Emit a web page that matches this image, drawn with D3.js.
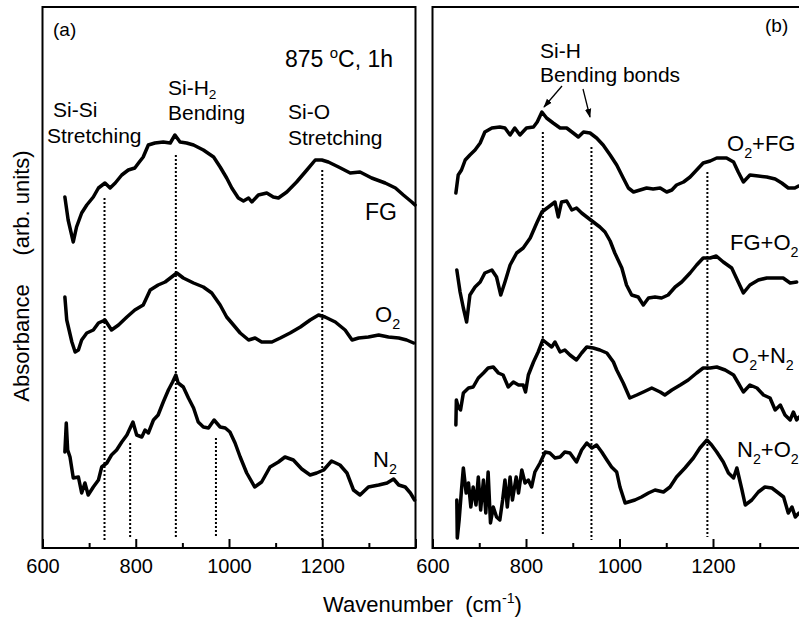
<!DOCTYPE html>
<html>
<head>
<meta charset="utf-8">
<script src="https://cdn.jsdelivr.net/npm/d3@7"></script>
<style>
  body { margin: 0; background: #fff; }
  text { font-family: "Liberation Sans", Arial, Helvetica, sans-serif; fill: #000; }
</style>
</head>
<body>
<script>
  // spectra: [wavenumber (cm-1), absorbance (arb.)]
  const aFG = [[648,3.51],[655,3.28],[666,3.06],[673,3.21],[684,3.35],[695,3.43],[709,3.51],[720,3.60],[734,3.65],[745,3.60],[756,3.65],[770,3.73],[784,3.78],[798,3.80],[806,3.85],[816,3.91],[827,4.03],[841,4.05],[859,4.06],[874,4.05],[884,4.13],[895,4.06],[909,4.05],[924,4.03],[945,3.98],[967,3.91],[981,3.81],[995,3.70],[1006,3.60],[1020,3.50],[1031,3.47],[1042,3.50],[1049,3.46],[1063,3.53],[1081,3.55],[1095,3.51],[1106,3.50],[1124,3.56],[1145,3.66],[1167,3.78],[1185,3.88],[1199,3.88],[1213,3.86],[1235,3.81],[1260,3.75],[1281,3.76],[1306,3.70],[1335,3.65],[1357,3.60],[1374,3.53],[1392,3.46],[1399,3.43]];
  const aO2 = [[648,2.51],[652,2.28],[663,2.06],[670,1.96],[677,1.98],[684,2.08],[695,2.15],[709,2.18],[720,2.25],[734,2.28],[748,2.18],[763,2.23],[781,2.31],[798,2.38],[816,2.43],[831,2.58],[848,2.63],[863,2.66],[877,2.71],[888,2.75],[902,2.70],[924,2.65],[945,2.61],[963,2.55],[981,2.43],[995,2.31],[1006,2.25],[1024,2.15],[1042,2.08],[1056,2.10],[1070,2.06],[1092,2.06],[1110,2.10],[1131,2.15],[1153,2.21],[1174,2.28],[1192,2.33],[1206,2.31],[1228,2.26],[1249,2.18],[1264,2.08],[1278,2.10],[1299,2.11],[1321,2.13],[1342,2.11],[1364,2.10],[1381,2.08],[1396,2.05]];
  const aN2 = [[648,0.96],[651,1.25],[654,0.98],[659,0.91],[666,0.70],[677,0.71],[684,0.55],[691,0.65],[698,0.53],[709,0.61],[720,0.68],[727,0.81],[738,0.85],[748,0.93],[759,0.98],[770,1.06],[781,1.13],[794,1.26],[802,1.13],[813,1.11],[820,1.18],[827,1.15],[838,1.28],[848,1.33],[859,1.46],[870,1.58],[879,1.66],[886,1.73],[891,1.65],[902,1.61],[913,1.50],[924,1.40],[934,1.26],[945,1.21],[956,1.20],[968,1.28],[981,1.21],[992,1.20],[1002,1.16],[1013,1.05],[1024,0.91],[1038,0.75],[1055,0.61],[1070,0.66],[1088,0.81],[1106,0.86],[1120,0.91],[1138,0.88],[1156,0.79],[1174,0.73],[1188,0.75],[1203,0.78],[1220,0.87],[1238,0.83],[1253,0.75],[1267,0.58],[1281,0.53],[1299,0.61],[1321,0.63],[1339,0.65],[1353,0.69],[1364,0.63],[1378,0.61],[1389,0.55],[1398,0.48]];

  const bO2FG = [[650,3.55],[655,3.73],[662,3.78],[670,3.88],[680,3.93],[691,3.98],[702,4.05],[712,4.16],[727,4.20],[744,4.21],[755,4.20],[766,4.13],[776,4.20],[787,4.13],[801,4.20],[816,4.21],[824,4.26],[834,4.36],[844,4.30],[858,4.25],[873,4.20],[887,4.20],[901,4.15],[912,4.11],[923,4.16],[937,4.15],[951,4.10],[965,4.03],[980,3.93],[994,3.83],[1008,3.70],[1019,3.60],[1030,3.56],[1044,3.58],[1058,3.60],[1072,3.59],[1087,3.60],[1101,3.56],[1112,3.58],[1122,3.63],[1137,3.66],[1151,3.71],[1165,3.78],[1179,3.85],[1194,3.87],[1208,3.90],[1229,3.90],[1244,3.86],[1254,3.76],[1265,3.66],[1279,3.73],[1297,3.72],[1315,3.71],[1333,3.69],[1347,3.65],[1361,3.60],[1375,3.60],[1383,3.62]];
  const bFGO2 = [[652,2.78],[659,2.56],[666,2.40],[673,2.26],[680,2.53],[691,2.61],[702,2.66],[712,2.75],[727,2.78],[737,2.71],[746,2.53],[755,2.66],[766,2.83],[780,2.95],[794,3.00],[809,3.10],[823,3.25],[834,3.36],[848,3.41],[862,3.46],[869,3.31],[876,3.46],[887,3.47],[898,3.38],[908,3.40],[919,3.35],[930,3.31],[944,3.26],[958,3.21],[969,3.16],[980,3.07],[990,2.95],[1005,2.80],[1015,2.63],[1026,2.53],[1040,2.51],[1051,2.43],[1062,2.50],[1076,2.51],[1090,2.50],[1104,2.53],[1119,2.61],[1133,2.66],[1151,2.75],[1165,2.83],[1179,2.90],[1194,2.90],[1207,2.92],[1222,2.86],[1240,2.80],[1254,2.66],[1265,2.55],[1279,2.63],[1297,2.68],[1315,2.70],[1333,2.70],[1350,2.70],[1365,2.65],[1379,2.66]];
  const bO2N2 = [[650,1.23],[651,1.48],[655,1.41],[660,1.38],[666,1.55],[677,1.60],[687,1.61],[698,1.70],[709,1.75],[719,1.80],[730,1.81],[741,1.75],[751,1.73],[762,1.61],[773,1.66],[784,1.63],[794,1.63],[799,1.56],[805,1.73],[816,1.86],[826,1.96],[836,2.08],[844,2.05],[855,2.01],[862,2.06],[873,1.96],[883,1.98],[894,1.93],[908,1.88],[919,1.95],[930,2.01],[944,2.00],[958,1.98],[973,1.95],[987,1.86],[994,1.78],[1008,1.65],[1022,1.50],[1037,1.53],[1051,1.56],[1069,1.60],[1087,1.56],[1097,1.53],[1112,1.58],[1130,1.63],[1147,1.68],[1165,1.75],[1179,1.80],[1194,1.80],[1208,1.81],[1226,1.78],[1244,1.73],[1254,1.65],[1265,1.56],[1279,1.63],[1294,1.60],[1308,1.53],[1322,1.50],[1333,1.38],[1344,1.43],[1354,1.33],[1365,1.28],[1372,1.36],[1379,1.28],[1384,1.31]];
  const bN2O2 = [[652,0.48],[653,0.10],[657,0.28],[662,0.58],[666,0.80],[672,0.55],[677,0.65],[682,0.41],[687,0.61],[693,0.43],[698,0.71],[703,0.38],[709,0.68],[714,0.35],[719,0.76],[724,0.25],[730,0.41],[737,0.31],[744,0.28],[750,0.48],[755,0.68],[760,0.41],[766,0.71],[771,0.48],[779,0.71],[784,0.55],[791,0.78],[798,0.65],[805,0.68],[812,0.61],[819,0.76],[830,0.85],[841,0.96],[851,0.95],[862,0.90],[873,0.91],[883,0.96],[894,0.95],[908,0.86],[919,0.98],[930,1.05],[941,1.00],[951,1.03],[962,0.96],[973,0.88],[983,0.81],[994,0.76],[1001,0.61],[1012,0.45],[1019,0.46],[1033,0.48],[1047,0.51],[1062,0.55],[1076,0.58],[1094,0.56],[1108,0.61],[1122,0.71],[1140,0.80],[1158,0.90],[1172,1.00],[1187,1.08],[1197,1.03],[1208,0.96],[1222,0.86],[1233,0.75],[1244,0.70],[1251,0.80],[1262,0.58],[1269,0.43],[1283,0.48],[1297,0.56],[1311,0.61],[1326,0.60],[1340,0.55],[1351,0.51],[1361,0.35],[1369,0.41],[1376,0.31],[1384,0.35]];

  // dotted marker lines: [wavenumber, top absorbance, bottom absorbance]
  const aMarks = [[733,3.50,0.08],[788,1.05,0.11],[886,3.93,0.11],[972,1.10,0.11],[1200,3.78,0.08]];
  const bMarks = [[836,4.16,0.13],[940,4.01,0.08],[1188,3.76,0.11]];

  const majorTicks = [600, 800, 1000, 1200, 1400];
  const minorTicks = [700, 900, 1100, 1300];
  const tickLabels = [600, 800, 1000, 1200];

  const width = 799;
  const height = 618;
  const plotTop = 7, plotBottom = 548;

  const svg = d3.select('body')
          .append('svg')
          .attr('width', width)
          .attr('height', height);

  const y = d3.scaleLinear().domain([0, 5.41]).range([plotBottom, plotTop]);

  const line = (x) => d3.line()
          .x(d => x(d[0]))
          .y(d => y(d[1]));

  function panel(x0, x1, series, marks) {
    const x = d3.scaleLinear().domain([600, 1400]).range([x0, x1]);
    const g = svg.append('g');

    // marker lines first, curves on top
    g.selectAll('line.mark')
            .data(marks)
            .enter()
            .append('line')
            .attr('class', 'mark')
            .attr('x1', d => x(d[0]))
            .attr('x2', d => x(d[0]))
            .attr('y1', d => y(d[1]))
            .attr('y2', d => y(d[2]))
            .attr('stroke', '#000')
            .attr('stroke-width', 2)
            .attr('stroke-dasharray', '2,2');

    g.selectAll('path.spec')
            .data(series)
            .enter()
            .append('path')
            .attr('class', 'spec')
            .attr('d', line(x))
            .attr('fill', 'none')
            .attr('stroke', '#000')
            .attr('stroke-width', 3.5)
            .attr('stroke-linejoin', 'round')
            .attr('stroke-linecap', 'round');

    // inward ticks on the bottom
    const major = g.append('g')
            .attr('transform', `translate(0,${plotBottom})`)
            .call(d3.axisBottom(x).tickValues(majorTicks).tickSize(-9).tickPadding(11)
                    .tickFormat(d => tickLabels.includes(d) ? d : ''));
    major.select('.domain').remove();
    major.selectAll('line').attr('stroke-width', 2);
    major.selectAll('text').attr('font-size', 20).attr('font-family', '"Liberation Sans", Arial, sans-serif');

    const minor = g.append('g')
            .attr('transform', `translate(0,${plotBottom})`)
            .call(d3.axisBottom(x).tickValues(minorTicks).tickSize(-5).tickFormat(''));
    minor.select('.domain').remove();
    minor.selectAll('line').attr('stroke-width', 2);

    g.append('rect')
            .attr('x', x0)
            .attr('y', plotTop)
            .attr('width', x1 - x0)
            .attr('height', plotBottom - plotTop)
            .attr('fill', 'none')
            .attr('stroke', '#000')
            .attr('stroke-width', 2);

    return { g, x };
  }

  panel(42.5, 415.5, [aFG, aO2, aN2], aMarks);
  panel(432.5, 806.5, [bO2FG, bFGO2, bO2N2, bN2O2], bMarks);

  // text helper, parts are [string, 'sub'|'sup'|null]
  function label(x, yy, parts, size, subOff = 7) {
    const t = svg.append('text').attr('x', x).attr('y', yy).attr('font-size', size);
    let shift = 0;
    parts.forEach(p => {
      const off = p[1] === 'sub' ? subOff : p[1] === 'sup' ? -9 : 0;
      t.append('tspan')
              .attr('dy', off - shift)
              .attr('font-size', p[1] ? size * 0.65 : size)
              .text(p[0]);
      shift = off;
    });
    return t;
  }

  // panel (a) annotations
  label(53, 36, [['(a)']], 19);
  label(285, 67, [['875 '], ['o', 'sup'], ['C, 1h']], 23);
  label(53, 117, [['Si-Si']], 21);
  label(47, 143, [['Stretching']], 21);
  label(168, 95, [['Si-H'], ['2', 'sub']], 21, 4);
  label(168, 120, [['Bending']], 21);
  label(288, 119, [['Si-O']], 21);
  label(288, 145, [['Stretching']], 21);
  label(365, 220, [['FG']], 23);
  label(375, 322, [['O'], ['2', 'sub']], 22);
  label(373, 467, [['N'], ['2', 'sub']], 22);

  // panel (b) annotations
  label(765, 32, [['(b)']], 19);
  label(540, 58, [['Si-H']], 21);
  label(540, 82, [['Bending bonds']], 21);
  label(727, 151, [['O'], ['2', 'sub'], ['+FG']], 22);
  label(730, 250, [['FG+O'], ['2', 'sub']], 22);
  label(732, 363, [['O'], ['2', 'sub'], ['+N'], ['2', 'sub']], 22);
  label(737, 457, [['N'], ['2', 'sub'], ['+O'], ['2', 'sub']], 22);

  svg.append('defs').append('marker')
          .attr('id', 'arr')
          .attr('viewBox', '0 0 10 10')
          .attr('refX', 9).attr('refY', 5)
          .attr('markerWidth', 7).attr('markerHeight', 7)
          .attr('orient', 'auto')
          .append('path')
          .attr('d', 'M0,1.5 L10,5 L0,8.5 z')
          .attr('fill', '#000');

  const arrows = [[562, 86, 544, 107], [583, 89, 590, 117]];
  svg.selectAll('line.arrow')
          .data(arrows)
          .enter()
          .append('line')
          .attr('x1', d => d[0]).attr('y1', d => d[1])
          .attr('x2', d => d[2]).attr('y2', d => d[3])
          .attr('stroke', '#000')
          .attr('stroke-width', 1.3)
          .attr('marker-end', 'url(#arr)');

  // axis titles
  svg.append('text')
          .attr('transform', 'translate(29,343) rotate(-90)')
          .attr('text-anchor', 'middle')
          .attr('font-size', 22)
          .text('Absorbance');
  svg.append('text')
          .attr('transform', 'translate(29,203) rotate(-90)')
          .attr('text-anchor', 'middle')
          .attr('font-size', 22)
          .text('(arb. units)');

  label(323, 612, [['Wavenumber\u00a0\u00a0(cm'], ['-1', 'sup'], [')']], 22);
</script>
</body>
</html>
